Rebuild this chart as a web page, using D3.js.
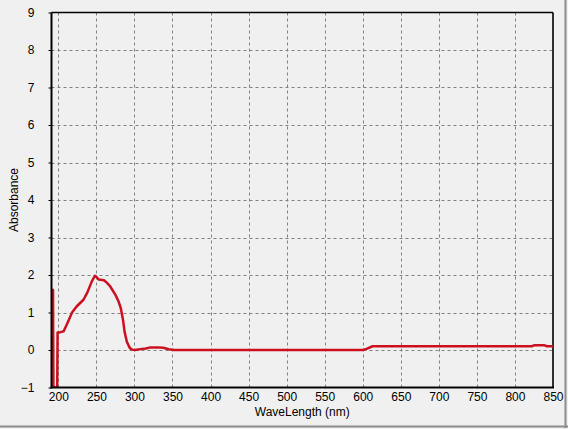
<!DOCTYPE html>
<html>
<head>
<meta charset="utf-8">
<style>
  html, body { margin: 0; padding: 0; background: #f0f0f0; }
  svg { display: block; font-family: "Liberation Sans", Arial, sans-serif; }
</style>
</head>
<body>
<svg id="chart" width="568" height="429"></svg>
<script src="https://cdn.jsdelivr.net/npm/d3@7/dist/d3.min.js"></script>
<script>
// data
var wavelength = [191.5, 193, 193.5, 198.5, 199, 202, 207, 212, 218, 224, 233, 238, 244, 248, 250, 253,
                  260, 264, 268, 275, 279, 282, 285, 287, 290, 294, 297, 301, 310, 315, 321, 330, 338,
                  345, 352, 400, 500, 600, 605, 613, 700, 800, 822, 826, 838, 842, 850];
var absorbance = [1.62, 1.6, -1, -1, 0.47, 0.47, 0.5, 0.72, 1.0, 1.16, 1.34, 1.53, 1.83, 1.98, 1.95, 1.88,
                  1.86, 1.79, 1.70, 1.47, 1.30, 1.12, 0.80, 0.49, 0.22, 0.05, 0.01, 0.0, 0.03, 0.04, 0.07, 0.07, 0.06,
                  0.02, 0.0, 0.0, 0.0, 0.0, 0.03, 0.1, 0.1, 0.1, 0.1, 0.13, 0.13, 0.1, 0.1];
var xTicks = [200, 250, 300, 350, 400, 450, 500, 550, 600, 650, 700, 750, 800, 850];
var yTicks = [-1, 0, 1, 2, 3, 4, 5, 6, 7, 8, 9];

var svg = d3.select("#chart");
var pLeft = 51.5, pRight = 553, pTop = 12.5, pBottom = 387.5;

var x = d3.scaleLinear().domain([191, 850]).range([pLeft, pRight]);
var y = d3.scaleLinear().domain([-1, 9]).range([pBottom, pTop]);

// window frame
svg.append("line").attr("x1", 0).attr("x2", 568).attr("y1", 426.5).attr("y2", 426.5)
  .attr("stroke", "#8c8c8c").attr("stroke-width", 2);
svg.append("line").attr("x1", 565.5).attr("x2", 565.5).attr("y1", 0).attr("y2", 428)
  .attr("stroke", "#8c8c8c").attr("stroke-width", 2);

// grid
svg.append("g").selectAll("line").data(xTicks.filter(function(d){ return d < 850; }))
  .enter().append("line")
  .attr("x1", function(d){ return Math.round(x(d)) + 0.5; })
  .attr("x2", function(d){ return Math.round(x(d)) + 0.5; })
  .attr("y1", pTop).attr("y2", pBottom)
  .attr("stroke", "#808080").attr("stroke-dasharray", "3,3");
svg.append("g").selectAll("line").data(yTicks.filter(function(d){ return d > -1 && d < 9; }))
  .enter().append("line")
  .attr("x1", pLeft).attr("x2", pRight)
  .attr("y1", function(d){ return Math.round(y(d)) + 0.5; })
  .attr("y2", function(d){ return Math.round(y(d)) + 0.5; })
  .attr("stroke", "#808080").attr("stroke-dasharray", "3,3");

// axes
var yAxis = d3.axisLeft(y).tickValues(yTicks).tickSize(3).tickPadding(14);
var gy = svg.append("g").attr("transform", "translate(" + pLeft + ",0)").call(yAxis);
gy.select(".domain").remove();
gy.selectAll("text").attr("font-size", 12).attr("fill", "#000");

var xAxis = d3.axisBottom(x).tickValues(xTicks).tickSize(0).tickPadding(5);
var gx = svg.append("g").attr("transform", "translate(0," + pBottom + ")").call(xAxis);
gx.select(".domain").remove();
gx.selectAll("text").attr("font-size", 12).attr("fill", "#000");

// plot border
svg.append("line").attr("x1", pLeft).attr("x2", pRight).attr("y1", pTop).attr("y2", pTop)
  .attr("stroke", "#000").attr("stroke-width", 1.3);
svg.append("line").attr("x1", pRight).attr("x2", pRight).attr("y1", pTop).attr("y2", pBottom)
  .attr("stroke", "#000").attr("stroke-width", 1.6);

// curve
svg.append("defs").append("clipPath").attr("id", "clip")
  .append("rect").attr("x", pLeft).attr("y", pTop).attr("width", pRight - pLeft).attr("height", pBottom - pTop);
var pts = wavelength.map(function(d, i){ return [d, absorbance[i]]; });
svg.append("path").datum(pts)
  .attr("clip-path", "url(#clip)")
  .attr("d", d3.line().x(function(d){ return x(d[0]); }).y(function(d){ return y(d[1]); }))
  .attr("fill", "none").attr("stroke", "#cc1020").attr("stroke-width", 2.5)
  .attr("stroke-linejoin", "round");

svg.append("line").attr("x1", pLeft).attr("x2", pLeft).attr("y1", pTop).attr("y2", pBottom + 1)
  .attr("stroke", "#000").attr("stroke-width", 2);
svg.append("line").attr("x1", pLeft - 1).attr("x2", pRight + 1).attr("y1", pBottom).attr("y2", pBottom)
  .attr("stroke", "#000").attr("stroke-width", 2);

// titles
svg.append("text").attr("x", (pLeft + pRight) / 2).attr("y", 416)
  .attr("text-anchor", "middle").attr("font-size", 12).text("WaveLength (nm)");
svg.append("text").attr("transform", "translate(18," + (pTop + pBottom) / 2 + ") rotate(-90)")
  .attr("text-anchor", "middle").attr("font-size", 12).text("Absorbance");
</script>
</body>
</html>
